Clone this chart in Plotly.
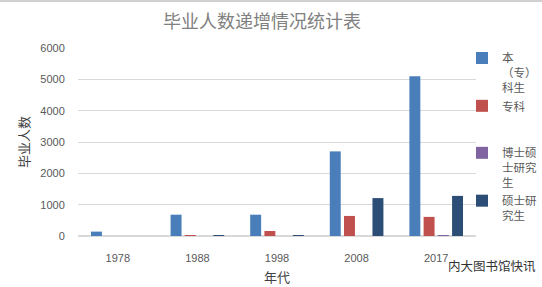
import plotly.graph_objects as go

years = ["1978", "1988", "1998", "2008", "2017"]
undergrad = [140, 680, 680, 2700, 5100]
junior = [0, 25, 160, 640, 610]
phd = [0, 0, 0, 0, 25]
master = [0, 20, 20, 1210, 1280]

series = [
    ("本<br>（专）<br>科生", undergrad, "#4A7EBB", "g1"),
    ("专科", junior, "#C0504D", "g1"),
    ("博士硕<br>士研究<br>生", phd, "#8064A2", "g2"),
    ("硕士研<br>究生", master, "#2C4D75", "g2"),
]

FONT = "Liberation Sans, Noto Sans CJK SC, sans-serif"
CJK = "Noto Sans CJK SC, sans-serif"

fig = go.Figure()
for name, vals, color, grp in series:
    fig.add_trace(go.Bar(x=years, y=vals, name=name, marker_color=color,
                         marker_line_width=0, legendgroup=grp))

W, H = 542, 287
L, T, B = 78, 48, 51
R_TARGET = 66          # right margin produced by the legend push
ph = H - T - B
pw = W - L - R_TARGET
legend_x = 1 + R_TARGET / pw  # legend right edge sits at the page edge

fig.update_layout(
    width=W, height=H,
    margin=dict(l=L, r=0, t=T, b=B),
    paper_bgcolor="white", plot_bgcolor="white",
    barmode="group", bargap=0.285, bargroupgap=0.23,
    font=dict(family=FONT, size=11, color="#595959"),
    title=dict(text="毕业人数递增情况统计表", x=(262) / W, xanchor="center",
               y=1 - 22 / H, yanchor="middle",
               font=dict(family=CJK, size=18, color="#808080")),
    legend=dict(x=legend_x, xanchor="right", y=(H - B - 44) / ph, yanchor="top",
                font=dict(family=CJK, size=11.5, color="#595959"),
                traceorder="grouped", tracegroupgap=28, valign="top",
                itemwidth=30, bgcolor="rgba(0,0,0,0)", maxheight=270),
    xaxis=dict(showgrid=False, showline=False, ticks="outside", ticklen=12,
               tickcolor="rgba(0,0,0,0)", automargin=False,
               tickfont=dict(family=FONT, size=11, color="#595959"),
               title=dict(text="年代", font=dict(family=CJK, size=13, color="#404040"),
                          standoff=9)),
    yaxis=dict(range=[0, 6000], dtick=1000, showgrid=True, gridcolor="#D9D9D9",
               zeroline=True, zerolinecolor="#D9D9D9", showline=False,
               ticks="outside", ticklen=10, tickcolor="rgba(0,0,0,0)", automargin=False,
               tickfont=dict(family=FONT, size=11, color="#595959"),
               title=dict(text="毕业人数", font=dict(family=CJK, size=13, color="#404040"),
                          standoff=7)),
    shapes=[dict(type="line", xref="paper", yref="paper", x0=-L / pw, x1=(W - L) / pw,
                 y0=(H - B - 1) / ph, y1=(H - B - 1) / ph,
                 line=dict(color="#D0D0D0", width=2))],
    annotations=[dict(text="内大图书馆快讯", xref="paper", yref="paper",
                      x=(492 - L) / pw, y=-(265 - (H - B)) / ph,
                      xanchor="center", yanchor="middle", showarrow=False,
                      font=dict(family=CJK, size=12.5, color="#333333"))],
)

fig.write_html("out.html")
